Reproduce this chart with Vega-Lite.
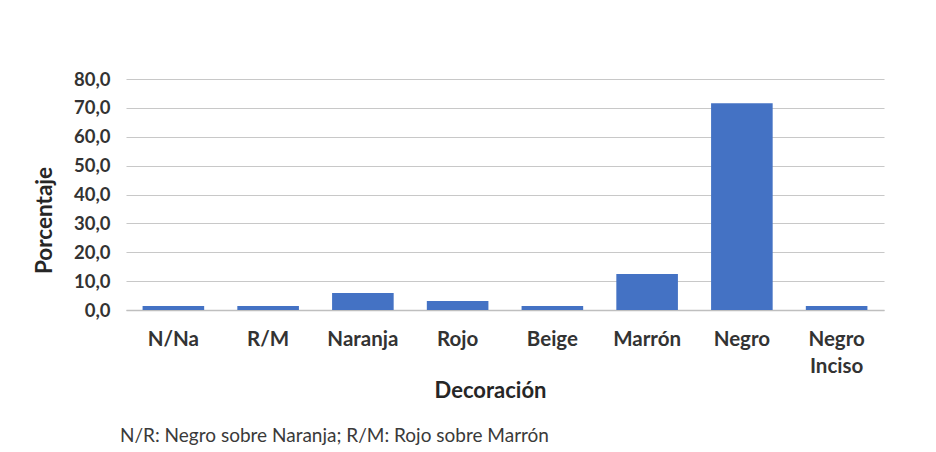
{
  "$schema": "https://vega.github.io/schema/vega-lite/v6.json",
  "width": 758,
  "height": 231,
  "autosize": {"type": "none"},
  "padding": {"left": 126, "top": 79, "right": 52, "bottom": 142},
  "background": "white",
  "config": {
    "locale": {"number": {"decimal": ",", "thousands": ".", "grouping": [3], "currency": ["", " €"]}},
    "font": "Lato",
    "view": {"stroke": null}
  },
  "title": {
    "text": "N/R: Negro sobre Naranja; R/M: Rojo sobre Marrón",
    "orient": "bottom",
    "anchor": "start",
    "frame": "group",
    "dx": -6,
    "offset": 25,
    "font": "Lato",
    "fontSize": 19,
    "fontWeight": "normal",
    "color": "#3a3a3a"
  },
  "data": {
    "values": [
      {"decoracion": "N/Na", "porcentaje": 1.4},
      {"decoracion": "R/M", "porcentaje": 1.4},
      {"decoracion": "Naranja", "porcentaje": 5.9},
      {"decoracion": "Rojo", "porcentaje": 3.1},
      {"decoracion": "Beige", "porcentaje": 1.4},
      {"decoracion": "Marrón", "porcentaje": 12.5},
      {"decoracion": "Negro", "porcentaje": 71.6},
      {"decoracion": "Negro Inciso", "porcentaje": 1.4}
    ]
  },
  "mark": {"type": "bar", "color": "#4472C4"},
  "encoding": {
    "x": {
      "field": "decoracion",
      "type": "nominal",
      "sort": null,
      "scale": {"paddingInner": 0.35, "paddingOuter": 0.175},
      "axis": {
        "title": "Decoración",
        "titleFont": "Lato",
        "titleFontSize": 22,
        "titleFontWeight": "bold",
        "titleColor": "#262626",
        "titlePadding": 4,
        "titleX": 364,
        "labelAngle": 0,
        "labelFont": "Lato",
        "labelFontSize": 20.5,
        "labelFontWeight": "bold",
        "labelColor": "#333333",
        "labelPadding": 19,
        "labelLineHeight": 27,
        "labelExpr": "datum.label == 'Negro Inciso' ? ['Negro', 'Inciso'] : datum.label",
        "ticks": false,
        "domainColor": "#bfbfbf",
        "domainWidth": 1.5
      }
    },
    "y": {
      "field": "porcentaje",
      "type": "quantitative",
      "scale": {"domain": [0, 80], "nice": false},
      "axis": {
        "title": "Porcentaje",
        "titleFont": "Lato",
        "titleFontSize": 22.5,
        "titleFontWeight": "bold",
        "titleColor": "#262626",
        "titlePadding": 17,
        "titleY": 141,
        "values": [0, 10, 20, 30, 40, 50, 60, 70, 80],
        "format": ".1f",
        "labelFont": "Lato",
        "labelFontSize": 18.5,
        "labelFontWeight": "bold",
        "labelColor": "#333333",
        "labelPadding": 16,
        "ticks": false,
        "domain": false,
        "gridColor": "#c8c8c8",
        "gridWidth": 1.2
      }
    }
  }
}
